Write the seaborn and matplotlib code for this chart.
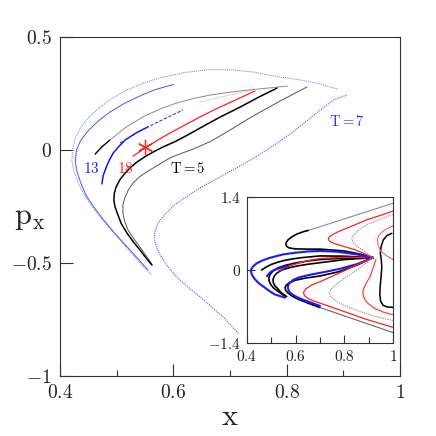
import matplotlib
matplotlib.use("Agg")
import matplotlib.pyplot as plt
import pandas as pd
import seaborn as sns
from matplotlib.ticker import FixedLocator, FixedFormatter

# --- main panel: (x, p_x) points ---
outer_blue = [(0.889, 0.27), (0.859, 0.292), (0.824, 0.31), (0.783, 0.325), (0.741, 0.345),
              (0.705, 0.354), (0.665, 0.356), (0.62, 0.343), (0.576, 0.319), (0.545, 0.294),
              (0.518, 0.265), (0.492, 0.229), (0.471, 0.19), (0.452, 0.148), (0.437, 0.102),
              (0.427, 0.052), (0.422, 0.0), (0.421, -0.045), (0.424, -0.09), (0.431, -0.14),
              (0.441, -0.19), (0.455, -0.243), (0.471, -0.296), (0.488, -0.347), (0.506, -0.398),
              (0.524, -0.45), (0.541, -0.5), (0.562, -0.553)]
outer_blue_2 = [(0.60, 0.29), (0.568, 0.267), (0.546, 0.245), (0.515, 0.208), (0.488, 0.168),
                (0.466, 0.125), (0.448, 0.08), (0.436, 0.04), (0.429, 0.0), (0.427, -0.05),
                (0.43, -0.097), (0.437, -0.148), (0.446, -0.2), (0.459, -0.25), (0.474, -0.30),
                (0.491, -0.352), (0.509, -0.403), (0.53, -0.46), (0.555, -0.531)]
inner_blue = [(0.906, 0.243), (0.882, 0.221), (0.853, 0.164), (0.832, 0.122), (0.811, 0.08),
              (0.789, 0.04), (0.765, 0.0), (0.736, -0.045), (0.705, -0.088), (0.676, -0.128),
              (0.647, -0.168), (0.624, -0.205), (0.602, -0.243), (0.585, -0.285), (0.573, -0.325),
              (0.567, -0.365), (0.567, -0.4), (0.571, -0.435), (0.578, -0.47), (0.59, -0.515),
              (0.606, -0.562), (0.625, -0.605), (0.647, -0.65), (0.668, -0.695), (0.688, -0.739),
              (0.716, -0.815)]
black_t5 = [(0.562, -0.509), (0.551, -0.475), (0.541, -0.442), (0.529, -0.405), (0.518, -0.367),
            (0.508, -0.325), (0.501, -0.279), (0.497, -0.25), (0.495, -0.221), (0.496, -0.19),
            (0.499, -0.164), (0.506, -0.13), (0.515, -0.102), (0.525, -0.076), (0.536, -0.053),
            (0.551, -0.028), (0.568, -0.004), (0.585, 0.017), (0.603, 0.037), (0.625, 0.066),
            (0.647, 0.097), (0.682, 0.145), (0.718, 0.19), (0.75, 0.233), (0.783, 0.274)]
dark_t5 = [(0.563, -0.509), (0.552, -0.468), (0.541, -0.429), (0.530, -0.392), (0.520, -0.354),
           (0.514, -0.315), (0.511, -0.279), (0.511, -0.243), (0.515, -0.208), (0.521, -0.175),
           (0.529, -0.146), (0.542, -0.115), (0.559, -0.088), (0.576, -0.062), (0.594, -0.035),
           (0.613, -0.016), (0.633, 0.002), (0.665, 0.037), (0.70, 0.088), (0.735, 0.142),
           (0.785, 0.212), (0.836, 0.279)]
gray_arc = [(0.462, -0.018), (0.474, 0.014), (0.488, 0.044), (0.515, 0.098), (0.546, 0.146),
            (0.576, 0.181), (0.606, 0.208), (0.635, 0.228), (0.665, 0.243), (0.70, 0.256),
            (0.735, 0.266), (0.802, 0.283)]
black_start = [(0.462, -0.018), (0.474, 0.014), (0.488, 0.044)]
pink_arc = [(0.647, 0.212), (0.69, 0.238), (0.741, 0.265)]
red_18 = [(0.529, -0.027), (0.55, 0.009), (0.572, 0.043), (0.594, 0.075), (0.62, 0.11),
          (0.647, 0.146), (0.674, 0.18), (0.70, 0.21), (0.744, 0.261)]
blue_13 = [(0.474, -0.15), (0.476, -0.115), (0.481, -0.08), (0.487, -0.045), (0.494, -0.013),
           (0.504, 0.016), (0.515, 0.044), (0.534, 0.075), (0.555, 0.102)]
blue_13_tail = [(0.506, 0.031), (0.541, 0.084), (0.576, 0.128), (0.617, 0.177)]
star_x, star_p = [0.55], [0.013]

# --- inset: (x, p_x) points ---
in_gray_top = [(0.652, 0.76), (0.70, 0.83), (0.80, 0.98), (0.90, 1.13), (1.0, 1.28)]
in_black_hook = [(0.652, 0.76), (0.632, 0.735), (0.605, 0.69), (0.584, 0.635), (0.568, 0.575),
                 (0.56, 0.515), (0.561, 0.465), (0.572, 0.425), (0.598, 0.405), (0.65, 0.40),
                 (0.70, 0.40), (0.80, 0.365), (0.87, 0.30), (0.918, 0.236)]
in_blue_outer = [(0.918, 0.236), (0.85, 0.30), (0.77, 0.35), (0.70, 0.365), (0.65, 0.355),
                 (0.597, 0.33), (0.55, 0.30), (0.515, 0.26), (0.485, 0.22), (0.46, 0.175),
                 (0.44, 0.128), (0.427, 0.077), (0.419, 0.03), (0.416, -0.02), (0.419, -0.075),
                 (0.425, -0.13), (0.433, -0.18), (0.45, -0.26), (0.474, -0.34), (0.494, -0.41),
                 (0.515, -0.47), (0.556, -0.53)]
in_black_arc = [(0.46, 0.0), (0.478, 0.055), (0.501, 0.109), (0.528, 0.152), (0.556, 0.186),
                (0.59, 0.215), (0.625, 0.237), (0.70, 0.27), (0.80, 0.265), (0.918, 0.236)]
in_blue_13 = [(0.482, -0.12), (0.49, -0.07), (0.50, -0.03), (0.514, 0.005), (0.53, 0.03),
              (0.57, 0.08)]
in_red_18 = [(0.529, -0.02), (0.56, 0.05), (0.597, 0.11), (0.65, 0.18), (0.70, 0.22),
             (0.80, 0.245), (0.918, 0.236)]
in_black_k1 = [(0.556, -0.50), (0.536, -0.436), (0.52, -0.385), (0.508, -0.34), (0.497, -0.275),
               (0.491, -0.211), (0.49, -0.145), (0.495, -0.083), (0.508, -0.015), (0.529, 0.045),
               (0.56, 0.092), (0.60, 0.135), (0.65, 0.172), (0.70, 0.2), (0.80, 0.228),
               (0.918, 0.236)]
in_black_k2 = [(0.563, -0.51), (0.549, -0.466), (0.537, -0.42), (0.529, -0.37), (0.515, -0.305),
               (0.508, -0.243), (0.507, -0.18), (0.512, -0.115), (0.524, -0.055), (0.543, 0.0),
               (0.575, 0.045), (0.61, 0.08), (0.65, 0.11), (0.70, 0.14), (0.80, 0.20),
               (0.918, 0.236)]
in_blue_inner = [(0.918, 0.236), (0.85, 0.11), (0.78, 0.02), (0.70, -0.055), (0.65, -0.1),
                 (0.611, -0.147), (0.59, -0.19), (0.577, -0.243), (0.569, -0.29), (0.568, -0.34),
                 (0.571, -0.39), (0.577, -0.436), (0.592, -0.487), (0.611, -0.532), (0.636, -0.58),
                 (0.666, -0.63), (0.70, -0.69)]
in_black_low = [(0.918, 0.236), (0.85, 0.09), (0.78, -0.03), (0.70, -0.115), (0.64, -0.155),
                (0.60, -0.195), (0.575, -0.24), (0.561, -0.29), (0.556, -0.34), (0.559, -0.39),
                (0.568, -0.44), (0.585, -0.5), (0.61, -0.56), (0.65, -0.635), (0.70, -0.72)]
in_gray_bottom = [(0.70, -0.72), (0.80, -0.88), (0.90, -1.04), (1.0, -1.2)]
in_red_low1 = [(0.918, 0.236), (0.843, 0.08), (0.774, -0.07), (0.70, -0.225), (0.665, -0.29),
               (0.642, -0.36), (0.632, -0.43), (0.636, -0.49), (0.652, -0.55), (0.675, -0.595),
               (0.70, -0.635), (0.755, -0.725), (0.82, -0.83), (0.892, -0.95), (1.0, -1.1)]
in_gray_low = [(0.918, 0.236), (0.851, 0.0), (0.80, -0.16), (0.765, -0.28), (0.745, -0.37),
               (0.738, -0.44), (0.744, -0.51), (0.76, -0.575), (0.785, -0.645), (0.81, -0.7),
               (0.86, -0.79), (0.919, -0.88), (1.0, -0.97)]
in_red_low2 = [(0.93, 0.20), (0.915, 0.0), (0.906, -0.128), (0.89, -0.25), (0.88, -0.35),
               (0.876, -0.44), (0.88, -0.53), (0.895, -0.63), (0.919, -0.72), (0.955, -0.8),
               (1.0, -0.86)]
in_black_right = [(0.995, 0.704), (0.975, 0.66), (0.96, 0.576), (0.951, 0.45), (0.948, 0.32),
                  (0.952, 0.19), (0.954, 0.064), (0.951, -0.13), (0.947, -0.32), (0.946, -0.47),
                  (0.949, -0.6), (0.96, -0.68), (0.978, -0.71), (1.0, -0.716)]
in_red_up = [(1.0, 1.13), (0.95, 1.05), (0.897, 0.97), (0.855, 0.89), (0.815, 0.81),
             (0.78, 0.745), (0.754, 0.686), (0.738, 0.635), (0.734, 0.588), (0.741, 0.545),
             (0.76, 0.505), (0.788, 0.465), (0.843, 0.39), (0.88, 0.32), (0.918, 0.236)]
in_gray_up = [(1.0, 1.07), (0.945, 0.97), (0.897, 0.88), (0.862, 0.78), (0.843, 0.686),
              (0.832, 0.63), (0.831, 0.58), (0.843, 0.49), (0.862, 0.42), (0.884, 0.36),
              (0.918, 0.236)]
in_red_up2 = [(1.0, 0.845), (0.97, 0.78), (0.952, 0.716), (0.94, 0.65), (0.936, 0.588),
              (0.938, 0.49), (0.945, 0.396), (0.958, 0.33), (0.975, 0.27), (1.0, 0.2)]

main_xticks = [0.4, 0.6, 0.8, 1.0]
main_xlabels = ["0.4", "0.6", "0.8", "1"]
main_yticks = [-1.0, -0.5, 0.0, 0.5]
main_ylabels = ["-1", "-0.5", "0", "0.5"]
inset_xticks = [0.4, 0.6, 0.8, 1.0]
inset_xlabels = ["0.4", "0.6", "0.8", "1"]
inset_yticks = [-1.4, 0.0, 1.4]
inset_ylabels = ["-1.4", "0", "1.4"]
minor_xticks = [0.5, 0.7, 0.9]

sns.set_style("ticks")
plt.rcParams["mathtext.fontset"] = "cm"
plt.rcParams["font.family"] = ["DejaVu Serif"]

DOT = (0, (1, 1))


def curve(ax, pts, color, lw, ls="-"):
    df = pd.DataFrame(pts, columns=["x", "px"])
    sns.lineplot(data=df, x="x", y="px", ax=ax, sort=False, estimator=None,
                 color=color, lw=lw, linestyle=ls, solid_joinstyle="round")


def m(labels):
    return [r"$\mathrm{" + t + "}$" for t in labels]


def style_axes(a, xt, xl, yt, yl, size, major, minor, pad):
    a.xaxis.set_major_locator(FixedLocator(xt))
    a.xaxis.set_major_formatter(FixedFormatter(m(xl)))
    a.xaxis.set_minor_locator(FixedLocator(minor_xticks))
    a.yaxis.set_major_locator(FixedLocator(yt))
    a.yaxis.set_major_formatter(FixedFormatter(m(yl)))
    a.tick_params(which="major", direction="in", length=major, width=0.8, labelsize=size,
                  color="#333333", labelcolor="#222222", pad=pad)
    a.tick_params(which="minor", direction="in", length=minor, width=0.8, color="#333333")
    for s in a.spines.values():
        s.set_linewidth(0.8)
        s.set_color("#333333")


fig = plt.figure(figsize=(4.36, 4.36), dpi=100)
ax = fig.add_axes([60 / 436, 60 / 436, 340 / 436, 339 / 436])

curve(ax, outer_blue, "#7070ff", 0.7, DOT)
curve(ax, outer_blue_2, "#5050ff", 0.7)
curve(ax, inner_blue, "#5555ff", 0.8, DOT)
curve(ax, gray_arc, "#8c8c8c", 0.7)
curve(ax, black_start, "black", 0.9)
curve(ax, pink_arc, "#ff9090", 0.7, DOT)
curve(ax, dark_t5, "#555555", 0.7)
curve(ax, black_t5, "black", 1.1)
curve(ax, red_18, "#ff2020", 0.9)
curve(ax, blue_13, "#1515ff", 1.1)
curve(ax, blue_13_tail, "#3333ff", 0.8, (0, (3, 1.5)))
ax.plot(star_x, star_p, marker=(6, 2, 0), ms=11, mew=0.9, color="#ff2020", ls="none")

ax.text(0.456, -0.08, r"$13$", color="#2222ff", fontsize=11, ha="center", va="center")
ax.text(0.515, -0.08, r"$18$", color="#ff2020", fontsize=11, ha="center", va="center")
ax.text(0.626, -0.08, r"$\mathrm{T=5}$", color="black", fontsize=10.5, ha="center", va="center")
ax.text(0.906, 0.124, r"$\mathrm{T=7}$", color="#3333ff", fontsize=10.5, ha="center", va="center")

ax.set_xlim(0.4, 1.0)
ax.set_ylim(-1.0, 0.5)
style_axes(ax, main_xticks, main_xlabels, main_yticks, main_ylabels, 14, 9, 4, 6)
ax.set_xlabel(r"$\mathrm{x}$", fontsize=22, color="#222222")
ax.xaxis.set_label_coords(0.5, -0.075)
ax.set_ylabel(r"$\mathrm{p_x}$", fontsize=22, rotation=0, ha="center", va="center", color="#222222")
ax.yaxis.set_label_coords(-0.09, 0.47)

# inset
ins = fig.add_axes([247 / 436, 93 / 436, 146 / 436, 146 / 436])
curve(ins, in_gray_top, "#8c8c8c", 0.8)
curve(ins, in_black_hook, "black", 1.2)
curve(ins, in_black_arc, "black", 1.2)
curve(ins, in_black_k1, "black", 1.2)
curve(ins, in_black_k2, "black", 1.2)
curve(ins, in_red_18, "#ff2020", 1.0)
curve(ins, in_blue_outer, "#1a1aff", 1.5)
curve(ins, in_blue_13, "#1a1aff", 1.5)
curve(ins, in_black_low, "black", 1.2)
curve(ins, in_blue_inner, "#1a1aff", 1.5)
curve(ins, in_gray_bottom, "#666666", 0.8)
curve(ins, in_red_low1, "#ff2020", 0.9)
curve(ins, in_gray_low, "#888888", 0.8, DOT)
curve(ins, in_red_low2, "#ff4040", 0.9)
curve(ins, in_black_right, "black", 1.1)
curve(ins, in_red_up, "#ff2020", 0.9)
curve(ins, in_gray_up, "#888888", 0.8, DOT)
curve(ins, in_red_up2, "#ff6060", 0.8)

ins.set_xlim(0.4, 1.0)
ins.set_ylim(-1.4, 1.4)
style_axes(ins, inset_xticks, inset_xlabels, inset_yticks, inset_ylabels, 11, 6, 4, 4)
ins.set_xlabel("")
ins.set_ylabel("")

fig.savefig("out.png", dpi=100)
